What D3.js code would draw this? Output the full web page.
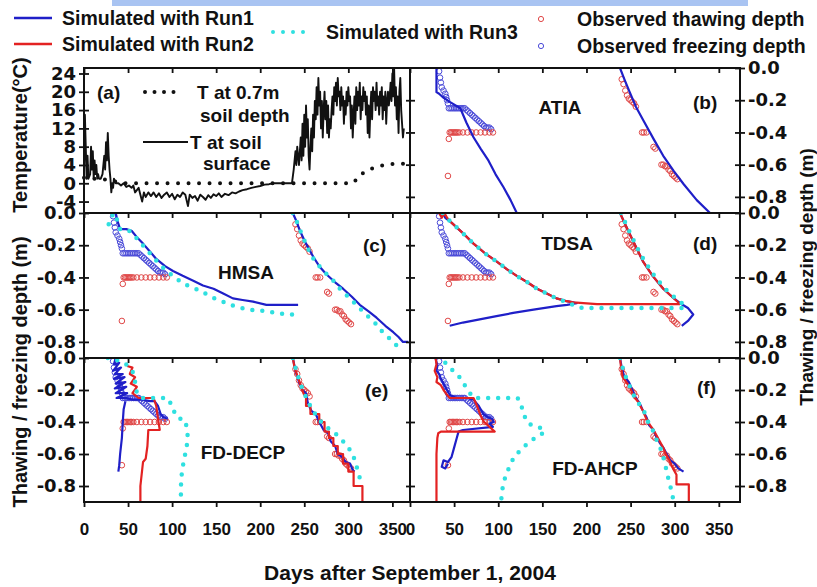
<!DOCTYPE html>
<html>
<head>
<meta charset="utf-8">
<script src="https://cdn.jsdelivr.net/npm/d3@7"></script>
<style>
body { margin: 0; background: #fff; }
svg { display: block; }
text { font-family: "Liberation Sans", Arial, sans-serif; font-weight: bold; fill: #111; }
.tick text { font-family: "DejaVu Sans", sans-serif; font-size: 18px; }
.xt .tick text { font-family: "Liberation Sans", Arial, sans-serif; font-size: 17px; }
</style>
</head>
<body>
<div id="chart"></div>
<script>
// ---- tick values ----
var xTicks = [0, 50, 100, 150, 200, 250, 300, 350];
var tempTicks = [24, 20, 16, 12, 8, 4, 0, -4];
var depthTicks = [0, -0.2, -0.4, -0.6, -0.8];

// ---- panel (a): temperatures [day, degC] ----
var surfaceT = [[0,2],[1,15],[2,8],[3,1],[4,6],[5,1],[7,2],[8,8],[9,3],[10,7],[11,1],[12,5],[13,2],[14,4],[15,1],[16,2],[17,1],[19,1],[21,2],[23,6],[24,3],[25,9],[26,5],[27,11],[28,6],[29,3],[30,1],[31,-2],[32,0],[33,-1],[34,1],[36,0],[39,0],[42,-0.5],[45,0],[48,-0.8],[51,-0.5],[54,-1],[56,-0.5],[58,-2],[60,-1.5],[62,-1],[64,-2.5],[66,-4],[68,-2],[70,-3],[73,-2],[76,-2.8],[79,-2],[82,-3],[85,-2.2],[88,-3.2],[91,-2.5],[94,-2],[97,-3],[100,-2.3],[103,-3.5],[106,-2.5],[109,-3],[112,-2],[115,-2.5],[118,-5],[120,-2.5],[123,-3.2],[126,-2.8],[129,-3.8],[132,-2.5],[135,-3],[138,-3.6],[141,-2.6],[144,-3.2],[147,-2.4],[150,-2.8],[153,-2.2],[156,-3],[160,-2.3],[164,-2.6],[168,-2],[172,-2.2],[176,-1.8],[180,-1.5],[185,-1.3],[190,-1],[195,-0.8],[200,-0.6],[205,-0.3],[210,-0.2],[215,0],[220,0],[225,0],[230,0],[236,0],[238,3],[240,7],[241,4],[242,8],[244,4],[246,10],[247,5],[248,13],[249,6],[250,15],[251,8],[252,17],[253,10],[254,14],[255,6],[256,3],[257,8],[258,12],[259,7],[260,15],[261,10],[262,18],[263,14],[264,21],[265,15],[266,23],[267,17],[268,20],[269,12],[270,18],[271,10],[272,16],[273,20],[274,14],[275,18],[276,11],[277,17],[278,10],[279,14],[280,12],[281,16],[282,19],[283,15],[284,21],[285,18],[286,22],[287,17],[288,23],[289,19],[290,20],[291,16],[292,21],[293,17],[294,19],[295,13],[296,18],[297,15],[298,20],[299,17],[300,21],[301,18],[302,19],[303,12],[304,17],[305,10],[306,15],[307,19],[308,13],[309,21],[310,16],[311,20],[312,17],[313,22],[314,14],[315,19],[316,16],[317,21],[318,18],[319,20],[320,15],[321,19],[322,11],[323,17],[324,10],[325,16],[326,20],[327,14],[328,21],[329,18],[330,20],[331,16],[332,22],[333,17],[334,19],[335,15],[336,20],[337,17],[338,21],[339,14],[340,19],[341,16],[342,20],[343,13],[344,18],[345,20],[346,17],[347,19],[348,22],[349,18],[350,24],[351,19],[352,25],[353,17],[354,21],[355,14],[356,19],[357,11],[358,20],[359,23],[360,16],[361,13],[362,10],[363,12]];
var soil07T = [[0,1.2],[25,0.8],[45,0],[305,0],[318,2.5],[330,3.5],[345,4.2],[365,4.3]];

// ---- observations [day, depth m] ----
var obsFreeze = [[33,-0.02],[34,-0.06],[35,-0.09],[36,-0.12],[38,-0.14],[40,-0.16],[41,-0.18],[42,-0.2],[43,-0.22],[44,-0.25],[46,-0.25],[48,-0.25],[50,-0.25],[52,-0.25],[54,-0.25],[56,-0.25],[58,-0.25],[60,-0.25],[62,-0.25],[64,-0.26],[66,-0.27],[68,-0.28],[70,-0.29],[72,-0.3],[74,-0.31],[76,-0.32],[78,-0.33],[80,-0.34],[82,-0.35],[84,-0.36],[86,-0.37],[88,-0.37],[90,-0.37],[92,-0.38]];
var obsThaw = [[44,-0.44],[43,-0.67],[45,-0.4],[46.5,-0.4],[48,-0.4],[49.5,-0.4],[51,-0.4],[52.5,-0.4],[54,-0.4],[56,-0.4],[60,-0.4],[65,-0.4],[70,-0.4],[75,-0.4],[80,-0.4],[85,-0.4],[90,-0.4],[94,-0.4],[240,-0.07],[242,-0.1],[244,-0.14],[246,-0.17],[248,-0.19],[250,-0.2],[252,-0.21],[254,-0.22],[256,-0.24],[263,-0.4],[265,-0.4],[268,-0.4],[276,-0.49],[278,-0.5],[285,-0.6],[287,-0.6],[289,-0.61],[291,-0.61],[293,-0.63],[295,-0.64],[297,-0.66],[299,-0.67],[301,-0.68],[303,-0.69]];

// ---- (b) ATIA ----
var atiaRun1Freeze = [[30,0],[30,-0.15],[33,-0.16],[37,-0.18],[45,-0.21],[57,-0.25],[64,-0.34],[72,-0.43],[80,-0.5],[89,-0.575],[97,-0.66],[106,-0.74],[114,-0.82],[121,-0.9]];
var atiaRun1Thaw = [[238,0],[243,-0.07],[249,-0.15],[256,-0.24],[265,-0.33],[276,-0.44],[287,-0.545],[299,-0.64],[310,-0.72],[325,-0.82],[340,-0.9]];

// ---- (c) HMSA ----
var hmsaRun1Freeze = [[36,0],[38,-0.05],[41,-0.1],[48,-0.1],[54,-0.11],[60,-0.15],[67,-0.19],[75,-0.24],[82,-0.285],[92,-0.33],[101,-0.36],[112,-0.39],[124,-0.42],[135,-0.45],[147,-0.47],[158,-0.5],[169,-0.53],[180,-0.54],[192,-0.55],[207,-0.57],[243,-0.57]];
var hmsaRun1Thaw = [[237,0],[241,-0.05],[245,-0.11],[252,-0.19],[260,-0.27],[267,-0.33],[275,-0.38],[285,-0.43],[294,-0.47],[304,-0.52],[313,-0.57],[323,-0.61],[332,-0.65],[342,-0.7],[351,-0.74],[357,-0.77],[362,-0.8],[368,-0.8]];
var hmsaRun3Freeze = [[28,-0.07],[31,-0.02],[35,0],[38,-0.05],[41,-0.1],[48,-0.1],[54,-0.12],[62,-0.17],[70,-0.22],[78,-0.27],[86,-0.32],[94,-0.36],[103,-0.4],[113,-0.44],[122,-0.46],[131,-0.48],[141,-0.51],[150,-0.535],[160,-0.555],[169,-0.575],[179,-0.59],[188,-0.6],[198,-0.605],[207,-0.61],[218,-0.62],[230,-0.63],[239,-0.63]];
var hmsaRun3Thaw = [[237,0],[242,-0.06],[247,-0.13],[254,-0.22],[262,-0.3],[272,-0.36],[283,-0.42],[292,-0.48],[302,-0.53],[311,-0.58],[320,-0.63],[330,-0.68],[339,-0.74],[349,-0.79],[358,-0.84],[362,-0.86]];

// ---- (d) TDSA ----
var tdsaRun1Freeze = [[37,0],[40,-0.03],[47,-0.06],[59,-0.12],[72,-0.19],[85,-0.25],[98,-0.3],[110,-0.35],[121,-0.39],[133,-0.43],[144,-0.47],[155,-0.5],[166,-0.53],[176,-0.545],[185,-0.555],[189,-0.56],[178,-0.57],[166,-0.578],[140,-0.6],[117,-0.62],[98,-0.64],[79,-0.66],[60,-0.68],[45,-0.7]];
var tdsaRun1Thaw = [[238,0],[243,-0.06],[249,-0.13],[256,-0.21],[264,-0.3],[275,-0.39],[287,-0.47],[297,-0.52],[306,-0.56],[315,-0.59],[321,-0.63],[315,-0.67],[308,-0.7]];
var tdsaRun2Freeze = [[33,0],[36,-0.03],[39,0],[42,-0.03],[47,-0.06],[59,-0.12],[72,-0.19],[85,-0.25],[98,-0.3],[110,-0.35],[121,-0.39],[133,-0.43],[144,-0.47],[155,-0.5],[166,-0.53],[176,-0.545],[185,-0.555],[212,-0.565],[306,-0.565]];
var tdsaRun2Thaw = [[238,0],[243,-0.06],[249,-0.13],[256,-0.21],[264,-0.3],[275,-0.39],[287,-0.47],[297,-0.52],[306,-0.565]];
var tdsaRun3Freeze = [[37,0],[47,-0.06],[59,-0.12],[72,-0.19],[85,-0.25],[98,-0.3],[110,-0.35],[121,-0.39],[133,-0.43],[144,-0.47],[155,-0.5],[166,-0.53],[176,-0.55],[185,-0.57],[195,-0.59],[310,-0.59]];
var tdsaRun3Thaw = [[239,0],[244,-0.06],[250,-0.13],[257,-0.21],[266,-0.3],[277,-0.39],[289,-0.47],[299,-0.52],[308,-0.56],[316,-0.59]];

// ---- (e) FD-DECP ----
var decpRun1Freeze = [[30,0],[36,0],[34,-0.04],[40,-0.03],[33,-0.08],[42,-0.06],[35,-0.1],[44,-0.1],[34,-0.13],[46,-0.12],[36,-0.16],[47,-0.15],[35,-0.19],[48,-0.18],[36,-0.22],[49,-0.22],[37,-0.25],[48,-0.25],[55,-0.26],[65,-0.26],[75,-0.27],[80,-0.27],[84,-0.3],[87,-0.35],[90,-0.37],[95,-0.38]];
var decpRun1Deep = [[47,-0.27],[45,-0.32],[44,-0.4],[43,-0.5],[41,-0.6],[40,-0.67],[39,-0.71]];
var decpRun1Thaw = [[237,0],[240,-0.08],[244,-0.15],[248,-0.2],[252,-0.22],[254,-0.28],[258,-0.33],[263,-0.35],[267,-0.4],[272,-0.45],[277,-0.47],[280,-0.52],[285,-0.55],[288,-0.6],[293,-0.62],[297,-0.65],[302,-0.66],[305,-0.7],[307,-0.71]];
var decpRun2Freeze = [[49,-0.05],[55,-0.06],[52,-0.1],[58,-0.12],[53,-0.16],[60,-0.18],[55,-0.22],[62,-0.25],[70,-0.25],[79,-0.25],[82,-0.3],[84,-0.38],[86,-0.45],[73,-0.45],[72,-0.55],[70,-0.63],[67,-0.65],[66,-0.7],[64,-0.8],[64,-0.9]];
var decpRun2Thaw = [[237,0],[239,-0.06],[243,-0.125],[246,-0.17],[249,-0.22],[252,-0.25],[252,-0.3],[257,-0.3],[257,-0.35],[267,-0.35],[267,-0.4],[273,-0.4],[273,-0.46],[278,-0.46],[278,-0.5],[283,-0.5],[283,-0.55],[288,-0.55],[288,-0.6],[294,-0.6],[294,-0.66],[300,-0.66],[300,-0.71],[306,-0.71],[306,-0.8],[316,-0.8],[316,-0.9]];
var decpRun3Freeze = [[27,0],[33,0],[40,-0.02],[48,-0.04],[55,-0.08],[58,-0.15],[60,-0.22],[65,-0.25],[80,-0.25],[95,-0.25],[100,-0.3],[104,-0.36],[108,-0.38],[113,-0.38],[116,-0.42],[118,-0.5],[116,-0.57],[113,-0.65],[111,-0.72],[110,-0.8],[110,-0.9]];
var decpRun3Thaw = [[237,0],[241,-0.08],[245,-0.15],[250,-0.22],[255,-0.28],[260,-0.33],[266,-0.38],[273,-0.42],[280,-0.45],[287,-0.48],[294,-0.52],[300,-0.56],[305,-0.6],[309,-0.67],[312,-0.73],[314,-0.77]];

// ---- (f) FD-AHCP ----
var ahcpRun1Freeze = [[29,0],[31,-0.05],[30,-0.08],[33,-0.1],[35,-0.13],[38,-0.16],[42,-0.2],[45,-0.23],[52,-0.25],[65,-0.25],[72,-0.26],[78,-0.3],[83,-0.35],[88,-0.37],[93,-0.38],[95,-0.4],[90,-0.41],[94,-0.43],[60,-0.45],[55,-0.46],[53,-0.5],[50,-0.56],[47,-0.62],[43,-0.65],[38,-0.64],[36,-0.68],[40,-0.69],[43,-0.66]];
var ahcpRun1Thaw = [[238,0],[240,-0.06],[243,-0.12],[248,-0.15],[252,-0.2],[256,-0.25],[260,-0.28],[264,-0.33],[268,-0.37],[271,-0.42],[276,-0.45],[279,-0.49],[283,-0.53],[287,-0.56],[291,-0.6],[295,-0.64],[300,-0.66],[304,-0.69],[310,-0.71]];
var ahcpRun2Freeze = [[29,0],[30,-0.04],[28,-0.08],[31,-0.12],[30,-0.15],[35,-0.17],[38,-0.2],[42,-0.23],[45,-0.25],[55,-0.25],[72,-0.25],[76,-0.3],[80,-0.36],[84,-0.4],[90,-0.43],[96,-0.46],[70,-0.46],[45,-0.46],[35,-0.46],[32,-0.47],[31,-0.5],[30,-0.6],[30,-0.7],[30,-0.8],[30,-0.9]];
var ahcpRun2Thaw = [[238,0],[239,-0.05],[241,-0.12],[245,-0.15],[249,-0.18],[252,-0.22],[255,-0.25],[258,-0.27],[261,-0.3],[264,-0.33],[267,-0.37],[270,-0.4],[272,-0.42],[276,-0.45],[279,-0.48],[283,-0.52],[287,-0.56],[290,-0.6],[294,-0.64],[298,-0.69],[302,-0.73],[302,-0.79],[316,-0.79],[316,-0.9]];
var ahcpRun3Freeze = [[40,-0.03],[45,-0.06],[51,-0.09],[57,-0.125],[61,-0.16],[64,-0.19],[68,-0.22],[72,-0.25],[85,-0.25],[100,-0.25],[112,-0.25],[122,-0.25],[125,-0.28],[128,-0.33],[132,-0.4],[138,-0.42],[144,-0.43],[149,-0.44],[153,-0.46],[145,-0.49],[136,-0.52],[128,-0.56],[121,-0.6],[116,-0.64],[113,-0.67],[110,-0.72],[107,-0.76],[105,-0.81],[104,-0.86],[103,-0.9]];
var ahcpRun3Thaw = [[238,0],[242,-0.08],[246,-0.14],[250,-0.19],[255,-0.25],[260,-0.29],[265,-0.33],[270,-0.4],[276,-0.46],[280,-0.52],[285,-0.58],[288,-0.64],[291,-0.71],[293,-0.76],[295,-0.8],[297,-0.85],[299,-0.9]];

var blue = "#1f1fc8", red = "#e32222", cyan = "#2fe0e0";

var svg = d3.select("#chart").append("svg").attr("width", 817).attr("height", 587);

var xL = d3.scaleLinear().domain([0, 370]).range([84, 410]);
var xR = d3.scaleLinear().domain([0, 374]).range([410, 740]);
var rows = [[68, 213], [213, 358], [358, 502]];
var yT = d3.scaleLinear().domain([-6.5, 25.2]).range([213, 68]);
function yDepth(r) { return d3.scaleLinear().domain([0, -0.9]).range(rows[r]); }

// blue strip at the very top
svg.append("rect").attr("x", 112).attr("y", 0).attr("width", 636).attr("height", 6).attr("fill", "#a9c4f2");

var panels = [
  {x: xR, row: 0, tag: "(b)", tagX: 693, tagY: 109, name: "ATIA", nameX: 560, nameY: 114,
   series: [[blue, "solid", atiaRun1Freeze], [blue, "solid", atiaRun1Thaw]]},
  {x: xL, row: 1, tag: "(c)", tagX: 363, tagY: 252, name: "HMSA", nameX: 246, nameY: 279,
   series: [[blue, "solid", hmsaRun1Freeze], [blue, "solid", hmsaRun1Thaw],
            [cyan, "dot", hmsaRun3Freeze], [cyan, "dot", hmsaRun3Thaw]]},
  {x: xR, row: 1, tag: "(d)", tagX: 693, tagY: 250, name: "TDSA", nameX: 567, nameY: 250,
   series: [[blue, "solid", tdsaRun1Freeze], [blue, "solid", tdsaRun1Thaw],
            [red, "solid", tdsaRun2Freeze], [red, "solid", tdsaRun2Thaw],
            [cyan, "dot", tdsaRun3Freeze], [cyan, "dot", tdsaRun3Thaw]]},
  {x: xL, row: 2, tag: "(e)", tagX: 365, tagY: 397, name: "FD-DECP", nameX: 243, nameY: 459,
   series: [[blue, "solid", decpRun1Freeze], [blue, "solid", decpRun1Deep], [blue, "solid", decpRun1Thaw],
            [red, "solid", decpRun2Freeze], [red, "solid", decpRun2Thaw],
            [cyan, "dot", decpRun3Freeze], [cyan, "dot", decpRun3Thaw]]},
  {x: xR, row: 2, tag: "(f)", tagX: 697, tagY: 394, name: "FD-AHCP", nameX: 595, nameY: 475,
   series: [[blue, "solid", ahcpRun1Freeze], [blue, "solid", ahcpRun1Thaw],
            [red, "solid", ahcpRun2Freeze], [red, "solid", ahcpRun2Thaw],
            [cyan, "dot", ahcpRun3Freeze], [cyan, "dot", ahcpRun3Thaw]]}
];

var defs = svg.append("defs");

panels.forEach(function(p, i) {
  var y = yDepth(p.row);
  var x0 = p.x.range()[0], x1 = p.x.range()[1];
  defs.append("clipPath").attr("id", "clip" + i).append("rect")
    .attr("x", x0).attr("y", rows[p.row][0]).attr("width", x1 - x0).attr("height", rows[p.row][1] - rows[p.row][0]);
  var g = svg.append("g").attr("clip-path", "url(#clip" + i + ")");

  g.selectAll(".of").data(obsFreeze).enter().append("circle")
    .attr("cx", function(d) { return p.x(d[0]); }).attr("cy", function(d) { return y(d[1]); })
    .attr("r", 2.8).attr("fill", "none").attr("stroke", "#4a4ad8").attr("stroke-width", 1);
  g.selectAll(".ot").data(obsThaw).enter().append("circle")
    .attr("cx", function(d) { return p.x(d[0]); }).attr("cy", function(d) { return y(d[1]); })
    .attr("r", 2.8).attr("fill", "none").attr("stroke", "#e04848").attr("stroke-width", 1);

  var line = d3.line().x(function(d) { return p.x(d[0]); }).y(function(d) { return y(d[1]); });
  p.series.forEach(function(s) {
    var path = g.append("path").datum(s[2]).attr("d", line).attr("fill", "none").attr("stroke", s[0]);
    if (s[1] == "dot") {
      path.attr("stroke-width", 4.5).attr("stroke-dasharray", "0,10").attr("stroke-linecap", "round");
    } else {
      path.attr("stroke-width", 2.2).attr("stroke-linejoin", "round");
    }
  });

  svg.append("text").attr("x", p.tagX).attr("y", p.tagY).style("font-size", "19px").text(p.tag);
  svg.append("text").attr("x", p.nameX).attr("y", p.nameY).attr("text-anchor", "middle").style("font-size", "19px").text(p.name);
});

// ---- panel (a) ----
var ga = svg.append("g");
var tLine = d3.line().x(function(d) { return xL(d[0]); }).y(function(d) { return yT(d[1]); });
ga.append("path").datum(soil07T).attr("d", tLine).attr("fill", "none").attr("stroke", "#111")
  .attr("stroke-width", 4).attr("stroke-dasharray", "0,10.5").attr("stroke-linecap", "round");
ga.append("path").datum(surfaceT).attr("d", tLine).attr("fill", "none").attr("stroke", "#111")
  .attr("stroke-width", 1.9).attr("stroke-linejoin", "round");

svg.append("text").attr("x", 97).attr("y", 99).style("font-size", "19px").text("(a)");
svg.append("line").attr("x1", 145).attr("x2", 183).attr("y1", 92).attr("y2", 92).attr("stroke", "#111")
  .attr("stroke-width", 4).attr("stroke-dasharray", "0,9.5").attr("stroke-linecap", "round");
svg.append("text").attr("x", 197).attr("y", 99).style("font-size", "19px").text("T at 0.7m");
svg.append("text").attr("x", 200).attr("y", 122).style("font-size", "19px").text("soil depth");
svg.append("line").attr("x1", 143).attr("x2", 188).attr("y1", 142).attr("y2", 142).attr("stroke", "#111").attr("stroke-width", 2);
svg.append("text").attr("x", 190).attr("y", 149).style("font-size", "19px").text("T at soil");
svg.append("text").attr("x", 203).attr("y", 170).style("font-size", "19px").text("surface");

// ---- axes ----
function depthFmt(d) { return d.toFixed(1); }
function crossTicks(g, inner) {
  g.select(".domain").remove();
  g.selectAll(".tick line").attr("stroke", "#111").attr("stroke-width", 1.8).attr(inner[0], inner[1]);
}

// left axis (a): temperature
svg.append("g").attr("transform", "translate(84,0)")
  .call(d3.axisLeft(yT).tickValues(tempTicks).tickFormat(function(d) { return String(d); }).tickSize(5).tickPadding(3))
  .call(crossTicks, ["x1", 5]);
// left axes (c),(e) and right axes (b),(d),(f)
[1, 2].forEach(function(r) {
  svg.append("g").attr("transform", "translate(84,0)")
    .call(d3.axisLeft(yDepth(r)).tickValues(depthTicks).tickFormat(depthFmt).tickSize(5).tickPadding(3))
    .call(crossTicks, ["x1", 5]);
});
[0, 1, 2].forEach(function(r) {
  svg.append("g").attr("transform", "translate(740,0)")
    .call(d3.axisRight(yDepth(r)).tickValues(depthTicks).tickFormat(depthFmt).tickSize(5).tickPadding(3))
    .call(crossTicks, ["x1", -5]);
  // short ticks on the middle divider
  svg.append("g").attr("transform", "translate(410,0)")
    .call(d3.axisRight(yDepth(r)).tickValues(depthTicks.slice(1)).tickFormat("").tickSize(5))
    .call(crossTicks, ["x1", -4]);
});
// x ticks: inward at the top of every panel, outward with labels at the bottom
[xL, xR].forEach(function(x) {
  rows.forEach(function(r) {
    svg.append("g").attr("transform", "translate(0," + r[0] + ")")
      .call(d3.axisBottom(x).tickValues(xTicks).tickFormat("").tickSize(5))
      .call(crossTicks, ["y1", 0]);
  });
  svg.append("g").attr("class", "xt").attr("transform", "translate(0,502)")
    .call(d3.axisBottom(x).tickValues(xTicks).tickSize(5).tickPadding(16))
    .call(crossTicks, ["y1", 0]);
});

// frames
rows.forEach(function(r) {
  svg.append("rect").attr("x", 84).attr("y", r[0]).attr("width", 656).attr("height", r[1] - r[0])
    .attr("fill", "none").attr("stroke", "#111").attr("stroke-width", 2);
});
svg.append("line").attr("x1", 410).attr("x2", 410).attr("y1", 68).attr("y2", 502).attr("stroke", "#111").attr("stroke-width", 2);

// axis titles
svg.append("text").attr("transform", "translate(27,135) rotate(-90)").attr("text-anchor", "middle")
  .style("font-size", "20px").text("Temperature(°C)");
svg.append("text").attr("transform", "translate(27,372) rotate(-90)").attr("text-anchor", "middle")
  .style("font-size", "20px").text("Thawing / freezing depth (m)");
svg.append("text").attr("transform", "translate(813,277) rotate(-90)").attr("text-anchor", "middle")
  .style("font-size", "19px").text("Thawing / freezing depth (m)");
svg.append("text").attr("x", 410).attr("y", 580).attr("text-anchor", "middle")
  .style("font-size", "21px").text("Days after September 1, 2004");

// legend
var leg = svg.append("g");
leg.append("line").attr("x1", 14).attr("x2", 52).attr("y1", 18).attr("y2", 18).attr("stroke", blue).attr("stroke-width", 2.5);
leg.append("text").attr("x", 62).attr("y", 25).style("font-size", "19.5px").text("Simulated with Run1");
leg.append("line").attr("x1", 14).attr("x2", 52).attr("y1", 44).attr("y2", 44).attr("stroke", red).attr("stroke-width", 2.5);
leg.append("text").attr("x", 62).attr("y", 51).style("font-size", "19.5px").text("Simulated with Run2");
leg.append("line").attr("x1", 273).attr("x2", 313).attr("y1", 32).attr("y2", 32).attr("stroke", cyan)
  .attr("stroke-width", 4).attr("stroke-dasharray", "0,10").attr("stroke-linecap", "round");
leg.append("text").attr("x", 326).attr("y", 39).style("font-size", "19.5px").text("Simulated with Run3");
leg.append("circle").attr("cx", 541).attr("cy", 19).attr("r", 2.6).attr("fill", "none").attr("stroke", "#e04848");
leg.append("text").attr("x", 577).attr("y", 26).style("font-size", "19.5px").text("Observed thawing depth");
leg.append("circle").attr("cx", 541).attr("cy", 46).attr("r", 2.6).attr("fill", "none").attr("stroke", "#4a4ad8");
leg.append("text").attr("x", 577).attr("y", 53).style("font-size", "19.5px").text("Observed freezing depth");
</script>
</body>
</html>
